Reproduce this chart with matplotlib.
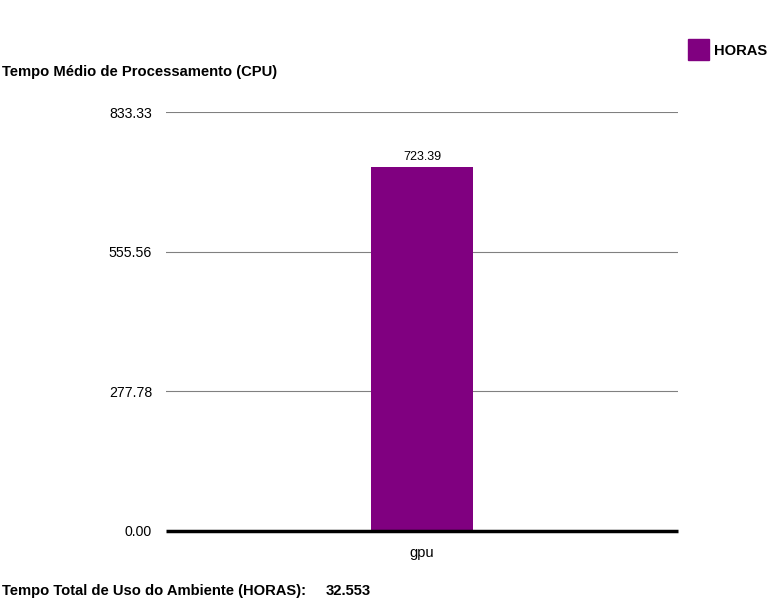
import matplotlib.pyplot as plt

plt.rcParams['font.family'] = ['Liberation Sans', 'DejaVu Sans']

categories = ['gpu']
horas = [723.39]
y_ticks = [0.0, 277.78, 555.56, 833.33]
total_horas = '32.553'
bar_color = '#800080'

fig = plt.figure(figsize=(7.68, 6), dpi=100)
ax = fig.add_axes([166 / 768, 1 - 531 / 600, 512 / 768, 419 / 600])

ax.bar(range(len(categories)), horas, width=0.201, color=bar_color, zorder=3, label='HORAS')
for i, v in enumerate(horas):
    ax.text(i, v + 9, f'{v:.2f}', ha='center', va='bottom', fontsize=9)

ax.set_xlim(-0.5, len(categories) - 0.5)
ax.set_ylim(0, y_ticks[-1])
ax.set_yticks(y_ticks)
ax.set_yticklabels([f'{t:.2f}' for t in y_ticks], fontsize=10.2)
ax.set_xticks(range(len(categories)))
ax.set_xticklabels(categories, fontsize=10.5)
ax.tick_params(axis='y', length=0, pad=10)
ax.tick_params(axis='x', length=0, pad=11)
for t in y_ticks[1:]:
    ax.axhline(t, color='#808080', lw=0.8, zorder=1)
ax.axhline(0, color='black', lw=2.5, zorder=4, clip_on=False, solid_capstyle='butt')
for s in ax.spines.values():
    s.set_visible(False)

fig.text(2 / 768, 1 - 72 / 600, 'Tempo Médio de Processamento (CPU)', fontsize=10.6,
         fontweight='bold', va='center', ha='left')
fig.text(2 / 768, 1 - 591 / 600, 'Tempo Total de Uso do Ambiente (HORAS):', fontsize=10.6,
         fontweight='bold', va='center', ha='left')
fig.text(326 / 768, 1 - 591 / 600, total_horas, fontsize=10.6,
         fontweight='bold', va='center', ha='left')

# legend box
fig.patches.append(plt.Rectangle((688 / 768, 1 - 60 / 600), 21 / 768, 21 / 600,
                                 transform=fig.transFigure, color=bar_color))
fig.text(714 / 768, 1 - 51 / 600, 'HORAS', fontsize=10.6, fontweight='bold', va='center', ha='left')

fig.savefig('out.png', dpi=100)
